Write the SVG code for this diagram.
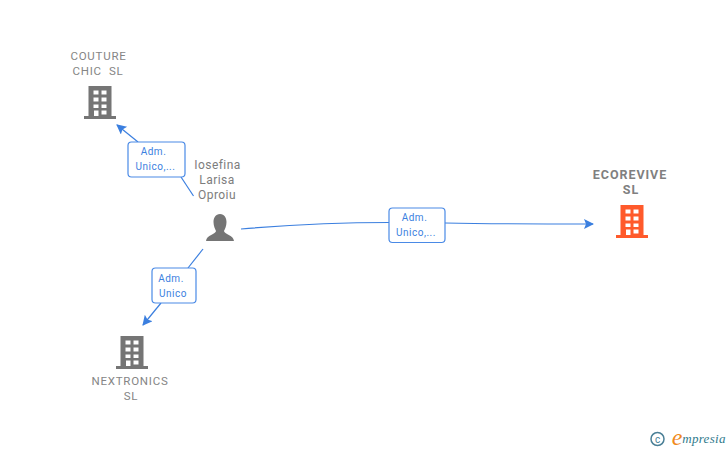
<svg xmlns="http://www.w3.org/2000/svg" width="728" height="450" viewBox="0 0 728 450">
<style>
text{font-family:Roboto,"Liberation Sans",sans-serif;text-anchor:middle}
.n{font-size:11.500px;fill:#858585;letter-spacing:.75px}
.p{font-size:12px;fill:#7d7d7d;letter-spacing:.45px}
.b{fill:#808080;font-weight:700;font-size:12.500px;letter-spacing:.95px}
.l{font-size:10px;fill:#3b7fe0;letter-spacing:.5px}
.c{fill:none;stroke:#3b7fdf;stroke-width:1.2}
.box{fill:#fff;stroke:#4a8ae6;stroke-width:1.2}
</style>
<defs>
<marker id="a" markerWidth="12" markerHeight="12" refX="9" refY="5" orient="auto" markerUnits="userSpaceOnUse"><path d="M0 0L10 5L0 10L2 5Z" fill="#3b7fdf"/></marker>
<g id="bld"><path d="M-11.500 -16H11.500V14H16V17H-16V14H-11.500ZM-6.500 -11.500V-7.500H-1.500V-11.500ZM1.500 -11.500V-7.500H6.500V-11.500ZM-6.500 -4.500V-.5H-1.500V-4.500ZM1.500 -4.500V-.5H6.500V-4.500ZM-6.500 2.500V6H-1.500V2.500ZM1.500 2.500V6H6.500V2.500ZM-6 8.500V14H-1.500V8.500ZM1.500 8.500V12.500H6.500V8.500Z" fill-rule="evenodd"/></g>
</defs>
<g id="connectors">
<path class="c" d="M138 142L117 125" marker-end="url(#a)"/>
<path class="c" d="M181 177L193.500 196"/>
<path class="c" d="M161 303L143 325" marker-end="url(#a)"/>
<path class="c" d="M203 249L188 268"/>
<path class="c" d="M241 229C290 225 345 222.500 389 222.500"/>
<path class="c" d="M445 223C495 224 545 224 593 224" marker-end="url(#a)"/>
</g>
<g id="edge-couture"><rect class="box" x="128" y="142" width="57" height="35" rx="3.500"/><text class="l" x="153.500" y="155">Adm.</text><text class="l" x="155.500" y="170">Unico,...</text></g>
<g id="edge-nextronics"><rect class="box" x="152" y="268" width="44" height="35" rx="3.500"/><text class="l" x="171" y="282">Adm.</text><text class="l" x="173" y="297">Unico</text></g>
<g id="edge-ecorevive"><rect class="box" x="389" y="208" width="56" height="34.500" rx="3.500"/><text class="l" x="414.500" y="221">Adm.</text><text class="l" x="416" y="236">Unico,...</text></g>
<g id="node-couture"><text class="n" x="98.500" y="60">COUTURE</text><text class="n" x="98" y="75" xml:space="preserve">CHIC  SL</text><use href="#bld" x="100" y="102" fill="#757575"/></g>
<g id="node-person"><text class="p" x="217.500" y="169">Iosefina</text><text class="p" x="217" y="184">Larisa</text><text class="p" x="217" y="199">Oproiu</text>
<path d="M220 214C224.500 214 226.500 218 226.500 222C226.500 226 225 229 224 231C224 234 233.500 235 234 241H206C206.500 235 216 234 216 231C215 229 213.500 226 213.500 222C213.500 218 215.500 214 220 214Z" fill="#757575"/></g>
<g id="node-nextronics"><use href="#bld" x="132" y="352" fill="#757575"/><text class="n" x="130" y="385">NEXTRONICS</text><text class="n" x="131" y="400">SL</text></g>
<g id="node-ecorevive"><text class="b" x="630" y="179">ECOREVIVE</text><text class="b" x="631" y="194">SL</text><use href="#bld" x="632" y="221" fill="#ff5a2b"/></g>
<g id="logo"><circle cx="657.500" cy="439" r="6.500" fill="none" stroke="#4a7f96" stroke-width="1.500"/><text x="657.500" y="442.500" font-size="10" fill="#4a7f96">c</text>
<text x="677" y="445" font-size="24" fill="#f08a1d" style="font-family:'Liberation Serif',serif;font-style:italic">e</text>
<text x="704" y="443" font-size="13" fill="#2f7a8c" style="font-family:'Liberation Serif',serif;font-style:italic;letter-spacing:.3px">mpresia</text></g>
</svg>
